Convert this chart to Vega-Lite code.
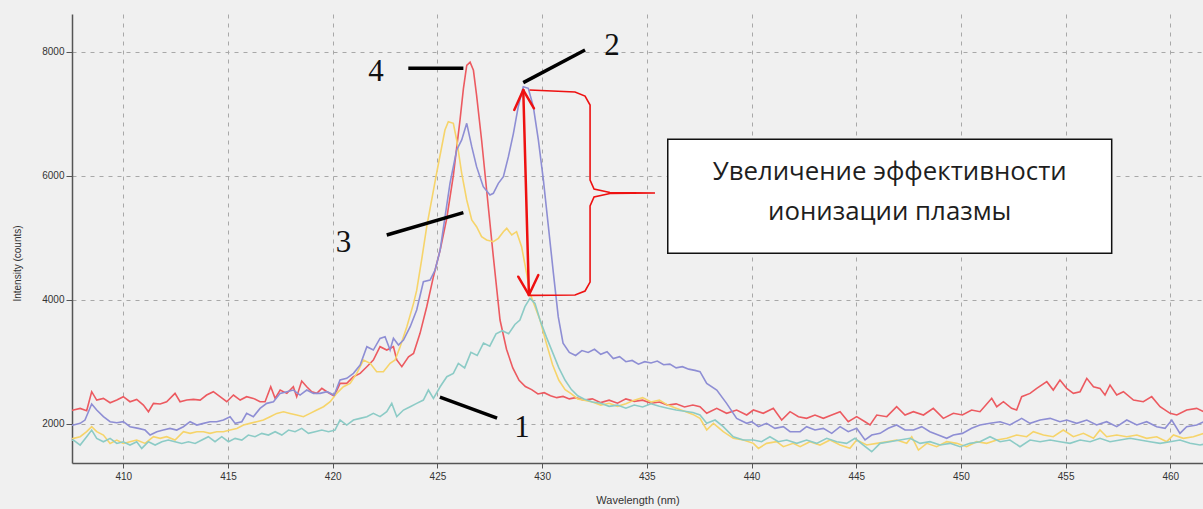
{
  "$schema": "https://vega.github.io/schema/vega-lite/v6.json",
  "width": 1131,
  "height": 449,
  "autosize": {"type": "none"},
  "padding": {"left": 72, "top": 14, "right": 0, "bottom": 46},
  "background": "#f0f0f0",
  "config": {"view": {"stroke": null}},
  "datasets": {
    "spec": [
      {"s":"4","x":407.5,"y":2210},{"s":"4","x":407.62,"y":2220},{"s":"4","x":407.94,"y":2247},{"s":"4","x":408.25,"y":2209},{"s":"4","x":408.49,"y":2516},{"s":"4","x":408.73,"y":2381},{"s":"4","x":409.05,"y":2408},{"s":"4","x":409.37,"y":2338},{"s":"4","x":409.69,"y":2381},{"s":"4","x":410.0,"y":2435},{"s":"4","x":410.32,"y":2354},{"s":"4","x":410.64,"y":2392},{"s":"4","x":410.96,"y":2301},{"s":"4","x":411.2,"y":2193},{"s":"4","x":411.44,"y":2328},{"s":"4","x":411.76,"y":2317},{"s":"4","x":412.07,"y":2354},{"s":"4","x":412.47,"y":2489},{"s":"4","x":412.71,"y":2354},{"s":"4","x":413.03,"y":2381},{"s":"4","x":413.35,"y":2392},{"s":"4","x":413.67,"y":2381},{"s":"4","x":413.98,"y":2462},{"s":"4","x":414.3,"y":2516},{"s":"4","x":414.62,"y":2435},{"s":"4","x":414.94,"y":2354},{"s":"4","x":415.26,"y":2462},{"s":"4","x":415.58,"y":2381},{"s":"4","x":415.89,"y":2435},{"s":"4","x":416.21,"y":2408},{"s":"4","x":416.53,"y":2354},{"s":"4","x":416.77,"y":2354},{"s":"4","x":417.04,"y":2596},{"s":"4","x":417.25,"y":2408},{"s":"4","x":417.49,"y":2543},{"s":"4","x":417.81,"y":2489},{"s":"4","x":418.12,"y":2596},{"s":"4","x":418.28,"y":2435},{"s":"4","x":418.52,"y":2688},{"s":"4","x":418.76,"y":2596},{"s":"4","x":419.0,"y":2516},{"s":"4","x":419.24,"y":2489},{"s":"4","x":419.48,"y":2570},{"s":"4","x":419.72,"y":2516},{"s":"4","x":420.07,"y":2446},{"s":"4","x":420.35,"y":2650},{"s":"4","x":420.67,"y":2650},{"s":"4","x":420.99,"y":2758},{"s":"4","x":421.31,"y":2812},{"s":"4","x":421.63,"y":2919},{"s":"4","x":421.94,"y":3027},{"s":"4","x":422.26,"y":3242},{"s":"4","x":422.58,"y":3188},{"s":"4","x":422.9,"y":3242},{"s":"4","x":423.06,"y":3027},{"s":"4","x":423.3,"y":2919},{"s":"4","x":423.62,"y":3080},{"s":"4","x":423.86,"y":3134},{"s":"4","x":424.17,"y":3457},{"s":"4","x":424.49,"y":3887},{"s":"4","x":424.81,"y":4371},{"s":"4","x":425.13,"y":4801},{"s":"4","x":425.44,"y":5300},{"s":"4","x":425.76,"y":6000},{"s":"4","x":426.08,"y":6900},{"s":"4","x":426.24,"y":7400},{"s":"4","x":426.4,"y":7780},{"s":"4","x":426.56,"y":7830},{"s":"4","x":426.72,"y":7700},{"s":"4","x":426.87,"y":7300},{"s":"4","x":427.11,"y":6576},{"s":"4","x":427.35,"y":5769},{"s":"4","x":427.67,"y":4694},{"s":"4","x":427.99,"y":3672},{"s":"4","x":428.3,"y":3200},{"s":"4","x":428.6,"y":2900},{"s":"4","x":428.9,"y":2700},{"s":"4","x":429.2,"y":2600},{"s":"4","x":429.5,"y":2550},{"s":"4","x":429.8,"y":2480},{"s":"4","x":430.1,"y":2500},{"s":"4","x":430.4,"y":2450},{"s":"4","x":430.7,"y":2420},{"s":"4","x":431.0,"y":2440},{"s":"4","x":431.3,"y":2400},{"s":"4","x":431.6,"y":2420},{"s":"4","x":432.0,"y":2380},{"s":"4","x":432.4,"y":2400},{"s":"4","x":432.8,"y":2340},{"s":"4","x":433.2,"y":2380},{"s":"4","x":433.6,"y":2330},{"s":"4","x":434.0,"y":2400},{"s":"4","x":434.4,"y":2360},{"s":"4","x":434.8,"y":2380},{"s":"4","x":435.2,"y":2330},{"s":"4","x":435.6,"y":2350},{"s":"4","x":436.0,"y":2300},{"s":"4","x":436.4,"y":2320},{"s":"4","x":436.8,"y":2270},{"s":"4","x":437.2,"y":2300},
      {"s":"4","x":437.54,"y":2274},{"s":"4","x":437.86,"y":2167},{"s":"4","x":438.34,"y":2247},{"s":"4","x":438.81,"y":2167},{"s":"4","x":439.29,"y":2221},{"s":"4","x":439.77,"y":2140},{"s":"4","x":440.09,"y":2221},{"s":"4","x":440.56,"y":2167},{"s":"4","x":441.04,"y":2247},{"s":"4","x":441.44,"y":2059},{"s":"4","x":441.84,"y":2194},{"s":"4","x":442.24,"y":2113},{"s":"4","x":442.63,"y":2086},{"s":"4","x":443.03,"y":2140},{"s":"4","x":443.43,"y":2086},{"s":"4","x":443.83,"y":2140},{"s":"4","x":444.23,"y":2194},{"s":"4","x":444.62,"y":2032},{"s":"4","x":445.02,"y":2113},{"s":"4","x":445.42,"y":2032},{"s":"4","x":445.66,"y":1979},{"s":"4","x":445.98,"y":2140},{"s":"4","x":446.46,"y":2113},{"s":"4","x":446.93,"y":2274},{"s":"4","x":447.33,"y":2140},{"s":"4","x":447.73,"y":2194},{"s":"4","x":448.21,"y":2140},{"s":"4","x":448.68,"y":2247},{"s":"4","x":449.16,"y":2086},{"s":"4","x":449.64,"y":2167},{"s":"4","x":450.07,"y":2140},{"s":"4","x":450.51,"y":2221},{"s":"4","x":450.91,"y":2194},{"s":"4","x":451.15,"y":2285},{"s":"4","x":451.47,"y":2409},{"s":"4","x":451.71,"y":2274},{"s":"4","x":452.03,"y":2355},{"s":"4","x":452.42,"y":2247},{"s":"4","x":452.66,"y":2221},{"s":"4","x":452.9,"y":2436},{"s":"4","x":453.3,"y":2489},{"s":"4","x":453.62,"y":2570},{"s":"4","x":454.1,"y":2678},{"s":"4","x":454.41,"y":2543},{"s":"4","x":454.73,"y":2705},{"s":"4","x":455.05,"y":2570},{"s":"4","x":455.37,"y":2489},{"s":"4","x":455.69,"y":2516},{"s":"4","x":456.01,"y":2731},{"s":"4","x":456.33,"y":2597},{"s":"4","x":456.64,"y":2570},{"s":"4","x":456.88,"y":2463},{"s":"4","x":457.12,"y":2624},{"s":"4","x":457.44,"y":2463},{"s":"4","x":457.76,"y":2516},{"s":"4","x":458.24,"y":2382},{"s":"4","x":458.71,"y":2355},{"s":"4","x":459.11,"y":2436},{"s":"4","x":459.51,"y":2274},{"s":"4","x":459.99,"y":2167},{"s":"4","x":460.31,"y":2140},{"s":"4","x":460.78,"y":2221},{"s":"4","x":461.26,"y":2247},{"s":"4","x":461.6,"y":2194},

      {"s":"3","x":407.5,"y":1760},{"s":"3","x":407.62,"y":1763},{"s":"3","x":407.94,"y":1790},{"s":"3","x":408.25,"y":1871},{"s":"3","x":408.49,"y":1951},{"s":"3","x":408.73,"y":1871},{"s":"3","x":409.05,"y":1817},{"s":"3","x":409.37,"y":1682},{"s":"3","x":409.69,"y":1736},{"s":"3","x":410.0,"y":1682},{"s":"3","x":410.32,"y":1709},{"s":"3","x":410.64,"y":1736},{"s":"3","x":411.04,"y":1682},{"s":"3","x":411.44,"y":1790},{"s":"3","x":411.76,"y":1763},{"s":"3","x":412.07,"y":1790},{"s":"3","x":412.47,"y":1736},{"s":"3","x":412.87,"y":1871},{"s":"3","x":413.19,"y":1844},{"s":"3","x":413.51,"y":1871},{"s":"3","x":413.83,"y":1871},{"s":"3","x":414.14,"y":1844},{"s":"3","x":414.46,"y":1871},{"s":"3","x":414.78,"y":1871},{"s":"3","x":415.1,"y":1897},{"s":"3","x":415.42,"y":1924},{"s":"3","x":415.74,"y":1978},{"s":"3","x":416.05,"y":2005},{"s":"3","x":416.37,"y":2032},{"s":"3","x":416.69,"y":2059},{"s":"3","x":417.01,"y":2113},{"s":"3","x":417.33,"y":2166},{"s":"3","x":417.65,"y":2193},{"s":"3","x":417.96,"y":2166},{"s":"3","x":418.28,"y":2140},{"s":"3","x":418.6,"y":2113},{"s":"3","x":418.92,"y":2166},{"s":"3","x":419.24,"y":2220},{"s":"3","x":419.56,"y":2274},{"s":"3","x":419.88,"y":2354},{"s":"3","x":420.19,"y":2489},{"s":"3","x":420.51,"y":2596},{"s":"3","x":420.83,"y":2650},{"s":"3","x":421.15,"y":2812},{"s":"3","x":421.47,"y":3027},{"s":"3","x":421.79,"y":2973},{"s":"3","x":422.1,"y":2838},{"s":"3","x":422.42,"y":2838},{"s":"3","x":422.74,"y":2973},{"s":"3","x":422.98,"y":3027},{"s":"3","x":423.22,"y":3242},{"s":"3","x":423.54,"y":3564},{"s":"3","x":423.86,"y":3941},{"s":"3","x":424.01,"y":4150},{"s":"3","x":424.25,"y":4650},{"s":"3","x":424.49,"y":5178},{"s":"3","x":424.96,"y":6038},{"s":"3","x":425.36,"y":6737},{"s":"3","x":425.52,"y":6872},{"s":"3","x":425.76,"y":6845},{"s":"3","x":425.92,"y":6576},{"s":"3","x":426.16,"y":6038},{"s":"3","x":426.4,"y":5608},{"s":"3","x":426.64,"y":5285},{"s":"3","x":426.87,"y":5178},{"s":"3","x":427.11,"y":5017},{"s":"3","x":427.35,"y":4963},{"s":"3","x":427.67,"y":4936},{"s":"3","x":427.91,"y":4990},{"s":"3","x":428.15,"y":5097},{"s":"3","x":428.31,"y":5151},{"s":"3","x":428.55,"y":5044},{"s":"3","x":428.78,"y":5097},{"s":"3","x":429.02,"y":4855},{"s":"3","x":429.26,"y":4425},{"s":"3","x":429.42,"y":4102},{"s":"3","x":429.66,"y":3887},{"s":"3","x":429.9,"y":3672},{"s":"3","x":430.2,"y":3300},{"s":"3","x":430.5,"y":2950},{"s":"3","x":430.8,"y":2700},{"s":"3","x":431.1,"y":2550},{"s":"3","x":431.4,"y":2480},{"s":"3","x":431.7,"y":2400},{"s":"3","x":432.0,"y":2380},{"s":"3","x":432.4,"y":2350},{"s":"3","x":432.8,"y":2300},{"s":"3","x":433.2,"y":2330},{"s":"3","x":433.6,"y":2280},{"s":"3","x":434.0,"y":2320},{"s":"3","x":434.4,"y":2380},{"s":"3","x":434.8,"y":2420},{"s":"3","x":435.2,"y":2350},{"s":"3","x":435.6,"y":2380},{"s":"3","x":436.0,"y":2300},{"s":"3","x":436.4,"y":2250},{"s":"3","x":436.8,"y":2200},{"s":"3","x":437.2,"y":2150},
      {"s":"3","x":437.54,"y":2086},{"s":"3","x":437.86,"y":1898},{"s":"3","x":438.18,"y":2006},{"s":"3","x":438.65,"y":1871},{"s":"3","x":439.13,"y":1764},{"s":"3","x":439.61,"y":1737},{"s":"3","x":440.09,"y":1683},{"s":"3","x":440.33,"y":1602},{"s":"3","x":440.72,"y":1683},{"s":"3","x":441.2,"y":1710},{"s":"3","x":441.52,"y":1629},{"s":"3","x":441.99,"y":1683},{"s":"3","x":442.32,"y":1629},{"s":"3","x":442.79,"y":1710},{"s":"3","x":443.27,"y":1656},{"s":"3","x":443.75,"y":1737},{"s":"3","x":444.23,"y":1656},{"s":"3","x":444.7,"y":1602},{"s":"3","x":445.02,"y":1737},{"s":"3","x":445.5,"y":1656},{"s":"3","x":445.98,"y":1683},{"s":"3","x":446.46,"y":1710},{"s":"3","x":446.93,"y":1737},{"s":"3","x":447.41,"y":1683},{"s":"3","x":447.65,"y":1790},{"s":"3","x":447.97,"y":1575},{"s":"3","x":448.37,"y":1683},{"s":"3","x":448.84,"y":1629},{"s":"3","x":449.32,"y":1710},{"s":"3","x":449.8,"y":1683},{"s":"3","x":450.27,"y":1629},{"s":"3","x":450.75,"y":1710},{"s":"3","x":451.23,"y":1683},{"s":"3","x":451.71,"y":1737},{"s":"3","x":452.19,"y":1764},{"s":"3","x":452.66,"y":1817},{"s":"3","x":453.14,"y":1790},{"s":"3","x":453.46,"y":1871},{"s":"3","x":453.94,"y":1817},{"s":"3","x":454.41,"y":1790},{"s":"3","x":454.89,"y":1898},{"s":"3","x":455.37,"y":1790},{"s":"3","x":455.85,"y":1844},{"s":"3","x":456.33,"y":1764},{"s":"3","x":456.64,"y":1898},{"s":"3","x":456.96,"y":1790},{"s":"3","x":457.44,"y":1817},{"s":"3","x":457.92,"y":1790},{"s":"3","x":458.4,"y":1817},{"s":"3","x":458.87,"y":1764},{"s":"3","x":459.35,"y":1790},{"s":"3","x":459.83,"y":1710},{"s":"3","x":460.15,"y":1817},{"s":"3","x":460.62,"y":1764},{"s":"3","x":461.1,"y":1790},{"s":"3","x":461.6,"y":1844},

      {"s":"1","x":407.5,"y":1730},{"s":"1","x":407.62,"y":1736},{"s":"1","x":407.94,"y":1655},{"s":"1","x":408.25,"y":1790},{"s":"1","x":408.49,"y":1897},{"s":"1","x":408.73,"y":1763},{"s":"1","x":409.05,"y":1709},{"s":"1","x":409.37,"y":1763},{"s":"1","x":409.69,"y":1682},{"s":"1","x":410.0,"y":1709},{"s":"1","x":410.32,"y":1655},{"s":"1","x":410.64,"y":1709},{"s":"1","x":410.88,"y":1601},{"s":"1","x":411.2,"y":1709},{"s":"1","x":411.52,"y":1655},{"s":"1","x":411.84,"y":1709},{"s":"1","x":412.15,"y":1736},{"s":"1","x":412.47,"y":1709},{"s":"1","x":412.79,"y":1682},{"s":"1","x":413.11,"y":1709},{"s":"1","x":413.43,"y":1682},{"s":"1","x":413.75,"y":1736},{"s":"1","x":414.06,"y":1790},{"s":"1","x":414.38,"y":1709},{"s":"1","x":414.7,"y":1790},{"s":"1","x":415.02,"y":1709},{"s":"1","x":415.34,"y":1763},{"s":"1","x":415.66,"y":1736},{"s":"1","x":415.97,"y":1817},{"s":"1","x":416.29,"y":1790},{"s":"1","x":416.61,"y":1844},{"s":"1","x":416.93,"y":1817},{"s":"1","x":417.25,"y":1871},{"s":"1","x":417.57,"y":1817},{"s":"1","x":417.89,"y":1897},{"s":"1","x":418.2,"y":1871},{"s":"1","x":418.52,"y":1924},{"s":"1","x":418.84,"y":1844},{"s":"1","x":419.16,"y":1871},{"s":"1","x":419.48,"y":1897},{"s":"1","x":419.8,"y":1871},{"s":"1","x":420.11,"y":1897},{"s":"1","x":420.35,"y":2059},{"s":"1","x":420.67,"y":1978},{"s":"1","x":420.99,"y":2059},{"s":"1","x":421.31,"y":2086},{"s":"1","x":421.63,"y":2113},{"s":"1","x":421.94,"y":2166},{"s":"1","x":422.26,"y":2113},{"s":"1","x":422.58,"y":2193},{"s":"1","x":422.82,"y":2328},{"s":"1","x":423.06,"y":2113},{"s":"1","x":423.38,"y":2220},{"s":"1","x":423.7,"y":2274},{"s":"1","x":424.01,"y":2328},{"s":"1","x":424.33,"y":2381},{"s":"1","x":424.57,"y":2543},{"s":"1","x":424.81,"y":2408},{"s":"1","x":425.13,"y":2596},{"s":"1","x":425.45,"y":2758},{"s":"1","x":425.76,"y":2812},{"s":"1","x":426.0,"y":2973},{"s":"1","x":426.3,"y":2900},{"s":"1","x":426.6,"y":3150},{"s":"1","x":426.9,"y":3100},{"s":"1","x":427.2,"y":3300},{"s":"1","x":427.5,"y":3250},{"s":"1","x":427.8,"y":3450},{"s":"1","x":428.1,"y":3500},{"s":"1","x":428.4,"y":3450},{"s":"1","x":428.7,"y":3600},{"s":"1","x":428.94,"y":3672},{"s":"1","x":429.18,"y":3887},{"s":"1","x":429.42,"y":4022},{"s":"1","x":429.66,"y":3941},{"s":"1","x":429.9,"y":3672},{"s":"1","x":430.2,"y":3400},{"s":"1","x":430.5,"y":3150},{"s":"1","x":430.8,"y":2900},{"s":"1","x":431.1,"y":2700},{"s":"1","x":431.4,"y":2550},{"s":"1","x":431.7,"y":2450},{"s":"1","x":432.0,"y":2400},{"s":"1","x":432.4,"y":2350},{"s":"1","x":432.8,"y":2330},{"s":"1","x":433.2,"y":2280},{"s":"1","x":433.6,"y":2300},{"s":"1","x":434.0,"y":2250},{"s":"1","x":434.4,"y":2300},{"s":"1","x":434.8,"y":2270},{"s":"1","x":435.2,"y":2320},{"s":"1","x":435.6,"y":2280},{"s":"1","x":436.0,"y":2250},{"s":"1","x":436.4,"y":2220},{"s":"1","x":436.8,"y":2200},{"s":"1","x":437.2,"y":2180},
      {"s":"1","x":437.54,"y":2140},{"s":"1","x":437.86,"y":2006},{"s":"1","x":438.26,"y":2059},{"s":"1","x":438.65,"y":1952},{"s":"1","x":439.13,"y":1790},{"s":"1","x":439.61,"y":1737},{"s":"1","x":440.09,"y":1737},{"s":"1","x":440.48,"y":1710},{"s":"1","x":440.88,"y":1790},{"s":"1","x":441.28,"y":1710},{"s":"1","x":441.68,"y":1737},{"s":"1","x":442.16,"y":1683},{"s":"1","x":442.63,"y":1737},{"s":"1","x":443.11,"y":1683},{"s":"1","x":443.59,"y":1764},{"s":"1","x":444.07,"y":1710},{"s":"1","x":444.54,"y":1683},{"s":"1","x":444.94,"y":1764},{"s":"1","x":445.34,"y":1656},{"s":"1","x":445.74,"y":1548},{"s":"1","x":446.14,"y":1683},{"s":"1","x":446.61,"y":1710},{"s":"1","x":447.09,"y":1737},{"s":"1","x":447.57,"y":1764},{"s":"1","x":448.05,"y":1683},{"s":"1","x":448.52,"y":1710},{"s":"1","x":449.0,"y":1656},{"s":"1","x":449.48,"y":1683},{"s":"1","x":449.96,"y":1629},{"s":"1","x":450.43,"y":1683},{"s":"1","x":450.91,"y":1710},{"s":"1","x":451.39,"y":1790},{"s":"1","x":451.87,"y":1710},{"s":"1","x":452.34,"y":1737},{"s":"1","x":452.82,"y":1629},{"s":"1","x":453.3,"y":1737},{"s":"1","x":453.78,"y":1710},{"s":"1","x":454.26,"y":1737},{"s":"1","x":454.73,"y":1710},{"s":"1","x":455.21,"y":1683},{"s":"1","x":455.69,"y":1737},{"s":"1","x":456.17,"y":1710},{"s":"1","x":456.64,"y":1764},{"s":"1","x":457.12,"y":1710},{"s":"1","x":457.6,"y":1737},{"s":"1","x":458.08,"y":1764},{"s":"1","x":458.55,"y":1737},{"s":"1","x":459.03,"y":1710},{"s":"1","x":459.51,"y":1683},{"s":"1","x":459.99,"y":1710},{"s":"1","x":460.46,"y":1737},{"s":"1","x":460.94,"y":1683},{"s":"1","x":461.42,"y":1656},{"s":"1","x":461.6,"y":1670},

      {"s":"2","x":407.5,"y":1975},{"s":"2","x":407.62,"y":1978},{"s":"2","x":407.94,"y":2005},{"s":"2","x":408.17,"y":2059},{"s":"2","x":408.49,"y":2317},{"s":"2","x":408.73,"y":2220},{"s":"2","x":409.05,"y":2113},{"s":"2","x":409.37,"y":2032},{"s":"2","x":409.69,"y":2016},{"s":"2","x":410.0,"y":2032},{"s":"2","x":410.32,"y":1951},{"s":"2","x":410.72,"y":1924},{"s":"2","x":411.04,"y":1897},{"s":"2","x":411.28,"y":1817},{"s":"2","x":411.6,"y":1871},{"s":"2","x":411.91,"y":1897},{"s":"2","x":412.23,"y":1924},{"s":"2","x":412.55,"y":1897},{"s":"2","x":412.87,"y":1951},{"s":"2","x":413.19,"y":2032},{"s":"2","x":413.51,"y":1978},{"s":"2","x":413.83,"y":2005},{"s":"2","x":414.14,"y":2032},{"s":"2","x":414.46,"y":2032},{"s":"2","x":414.78,"y":2059},{"s":"2","x":415.1,"y":2113},{"s":"2","x":415.34,"y":2005},{"s":"2","x":415.66,"y":2032},{"s":"2","x":415.89,"y":2166},{"s":"2","x":416.21,"y":2113},{"s":"2","x":416.53,"y":2247},{"s":"2","x":416.85,"y":2328},{"s":"2","x":417.17,"y":2354},{"s":"2","x":417.49,"y":2489},{"s":"2","x":417.81,"y":2516},{"s":"2","x":418.12,"y":2543},{"s":"2","x":418.44,"y":2462},{"s":"2","x":418.76,"y":2543},{"s":"2","x":419.08,"y":2489},{"s":"2","x":419.4,"y":2489},{"s":"2","x":419.72,"y":2516},{"s":"2","x":420.07,"y":2462},{"s":"2","x":420.35,"y":2704},{"s":"2","x":420.67,"y":2731},{"s":"2","x":420.99,"y":2812},{"s":"2","x":421.31,"y":2946},{"s":"2","x":421.63,"y":3242},{"s":"2","x":421.94,"y":3188},{"s":"2","x":422.26,"y":3376},{"s":"2","x":422.5,"y":3403},{"s":"2","x":422.74,"y":3188},{"s":"2","x":422.9,"y":3376},{"s":"2","x":423.14,"y":3269},{"s":"2","x":423.38,"y":3349},{"s":"2","x":423.7,"y":3564},{"s":"2","x":424.01,"y":3833},{"s":"2","x":424.33,"y":4290},{"s":"2","x":424.65,"y":4317},{"s":"2","x":424.89,"y":4478},{"s":"2","x":425.13,"y":4801},{"s":"2","x":425.6,"y":5877},{"s":"2","x":425.92,"y":6415},{"s":"2","x":426.16,"y":6576},{"s":"2","x":426.4,"y":6845},{"s":"2","x":426.64,"y":6468},{"s":"2","x":426.87,"y":6146},{"s":"2","x":427.19,"y":5823},{"s":"2","x":427.51,"y":5689},{"s":"2","x":427.67,"y":5716},{"s":"2","x":427.91,"y":5877},{"s":"2","x":428.15,"y":5984},{"s":"2","x":428.39,"y":6307},{"s":"2","x":428.63,"y":6683},{"s":"2","x":428.86,"y":7113},{"s":"2","x":429.1,"y":7436},{"s":"2","x":429.34,"y":7409},{"s":"2","x":429.58,"y":7113},{"s":"2","x":429.82,"y":6576},{"s":"2","x":430.06,"y":5931},{"s":"2","x":430.3,"y":5178},{"s":"2","x":430.54,"y":4425},{"s":"2","x":430.77,"y":3726},{"s":"2","x":431.0,"y":3300},{"s":"2","x":431.3,"y":3150},{"s":"2","x":431.6,"y":3100},{"s":"2","x":431.9,"y":3180},{"s":"2","x":432.2,"y":3150},{"s":"2","x":432.5,"y":3200},{"s":"2","x":432.8,"y":3120},{"s":"2","x":433.1,"y":3160},{"s":"2","x":433.4,"y":3050},{"s":"2","x":433.7,"y":3080},{"s":"2","x":434.0,"y":3000},{"s":"2","x":434.3,"y":3020},{"s":"2","x":434.6,"y":2960},{"s":"2","x":434.9,"y":3000},{"s":"2","x":435.2,"y":2980},{"s":"2","x":435.5,"y":3010},{"s":"2","x":435.8,"y":2950},{"s":"2","x":436.1,"y":2960},{"s":"2","x":436.4,"y":2900},{"s":"2","x":436.7,"y":2920},{"s":"2","x":437.0,"y":2880},{"s":"2","x":437.3,"y":2860},
      {"s":"2","x":437.54,"y":2839},{"s":"2","x":437.86,"y":2651},{"s":"2","x":438.34,"y":2543},{"s":"2","x":438.81,"y":2328},{"s":"2","x":439.29,"y":2086},{"s":"2","x":439.77,"y":2006},{"s":"2","x":440.01,"y":2032},{"s":"2","x":440.33,"y":1952},{"s":"2","x":440.72,"y":2006},{"s":"2","x":441.12,"y":1925},{"s":"2","x":441.52,"y":1952},{"s":"2","x":441.84,"y":1871},{"s":"2","x":442.32,"y":1871},{"s":"2","x":442.63,"y":1952},{"s":"2","x":443.03,"y":1898},{"s":"2","x":443.43,"y":1925},{"s":"2","x":443.83,"y":1844},{"s":"2","x":444.23,"y":1952},{"s":"2","x":444.62,"y":1871},{"s":"2","x":445.02,"y":1925},{"s":"2","x":445.42,"y":1737},{"s":"2","x":445.74,"y":1817},{"s":"2","x":446.14,"y":1844},{"s":"2","x":446.53,"y":1925},{"s":"2","x":446.93,"y":1979},{"s":"2","x":447.33,"y":1898},{"s":"2","x":447.73,"y":1898},{"s":"2","x":448.13,"y":1952},{"s":"2","x":448.52,"y":1871},{"s":"2","x":448.92,"y":1817},{"s":"2","x":449.32,"y":1764},{"s":"2","x":449.64,"y":1817},{"s":"2","x":450.07,"y":1844},{"s":"2","x":450.51,"y":1925},{"s":"2","x":450.91,"y":1979},{"s":"2","x":451.39,"y":2006},{"s":"2","x":451.87,"y":2032},{"s":"2","x":452.34,"y":1979},{"s":"2","x":452.9,"y":2086},{"s":"2","x":453.3,"y":2006},{"s":"2","x":453.78,"y":2059},{"s":"2","x":454.26,"y":2086},{"s":"2","x":454.73,"y":2032},{"s":"2","x":455.05,"y":2059},{"s":"2","x":455.53,"y":2006},{"s":"2","x":456.01,"y":2059},{"s":"2","x":456.48,"y":1979},{"s":"2","x":456.96,"y":2032},{"s":"2","x":457.44,"y":1952},{"s":"2","x":457.92,"y":2059},{"s":"2","x":458.4,"y":1979},{"s":"2","x":458.87,"y":2032},{"s":"2","x":459.35,"y":1952},{"s":"2","x":459.75,"y":1925},{"s":"2","x":460.07,"y":2059},{"s":"2","x":460.46,"y":1844},{"s":"2","x":460.78,"y":1952},{"s":"2","x":461.26,"y":1979},{"s":"2","x":461.6,"y":2032}
    ],
    "pointers": [
      {"x":423.61,"y":7732,"x2":426.24,"y2":7732},
      {"x":429.1,"y":7501,"x2":432.05,"y2":8028},
      {"x":422.58,"y":5043,"x2":426.24,"y2":5404},
      {"x":425.12,"y":2430,"x2":427.85,"y2":2091}
    ],
    "arrow": [
      {"x":429.1,"y":7382,"x2":429.37,"y2":4076},
      {"x":429.1,"y":7382,"x2":428.67,"y2":7060},
      {"x":429.1,"y":7382,"x2":429.61,"y2":7087},
      {"x":429.37,"y":4076,"x2":428.86,"y2":4371},
      {"x":429.37,"y":4076,"x2":429.82,"y2":4398}
    ],
    "brace": [
      {"i":1,"x":429.4,"y":7382},{"i":2,"x":431.57,"y":7350},{"i":3,"x":432.05,"y":7285},{"i":4,"x":432.29,"y":7140},{"i":5,"x":432.29,"y":5930},{"i":6,"x":432.48,"y":5785},{"i":7,"x":433.24,"y":5729},{"i":8,"x":435.39,"y":5721},{"i":9,"x":433.24,"y":5713},{"i":10,"x":432.48,"y":5656},{"i":11,"x":432.29,"y":5511},{"i":12,"x":432.29,"y":4285},{"i":13,"x":432.05,"y":4140},{"i":14,"x":431.57,"y":4076},{"i":15,"x":429.4,"y":4070}
    ],
    "box": [{"x":436.0,"x2":457.2,"y":6587,"y2":4748}],
    "boxText": [
      {"x":446.6,"y":5930,"t":"Увеличение эффективности"},
      {"x":446.6,"y":5285,"t":"ионизации плазмы"}
    ],
    "nums": [
      {"x":422.07,"y":7673,"t":"4"},
      {"x":433.34,"y":8092,"t":"2"},
      {"x":420.52,"y":4914,"t":"3"},
      {"x":429.04,"y":1930,"t":"1"}
    ]
  },
  "layer": [
    {
      "data": {"name": "spec"},
      "mark": {"type": "line", "strokeWidth": 1.6, "clip": true},
      "encoding": {
        "x": {"field": "x", "type": "quantitative",
          "scale": {"domain": [407.55, 461.56], "nice": false, "zero": false},
          "axis": {"title": "Wavelength (nm)", "values": [410,415,420,425,430,435,440,445,450,455,460], "format": "d",
            "grid": true, "gridDash": [4,5], "gridColor": "#a8a8a8", "gridWidth": 1,
            "domainColor": "#555555", "domainWidth": 1.5, "tickColor": "#555555", "tickSize": 5,
            "labelFont": "Liberation Sans", "labelFontSize": 10, "labelColor": "#333333", "labelPadding": 3,
            "titleFont": "Liberation Sans", "titleFontSize": 11, "titleFontWeight": "normal", "titleColor": "#333333",
            "titleBaseline": "top", "titleY": 31}},
        "y": {"field": "y", "type": "quantitative",
          "scale": {"domain": [1366, 8608], "nice": false, "zero": false},
          "axis": {"title": "Intensity (counts)", "values": [2000,4000,6000,8000], "format": "d",
            "grid": true, "gridDash": [4,5], "gridColor": "#a8a8a8", "gridWidth": 1,
            "domainColor": "#555555", "domainWidth": 1.5, "tickColor": "#555555", "tickSize": 6,
            "labelFont": "Liberation Sans", "labelFontSize": 10, "labelColor": "#333333", "labelPadding": 2,
            "titleFont": "Liberation Sans", "titleFontSize": 10, "titleFontWeight": "normal", "titleColor": "#333333",
            "titleAngle": 270, "titleX": -55, "titleY": 249, "titleAlign": "center", "titleBaseline": "middle"}},
        "color": {"field": "s", "type": "nominal", "legend": null,
          "scale": {"domain": ["4","3","1","2"], "range": ["#ec5a60","#f6d46a","#8ccbc6","#8e8ed4"]}}
      }
    },
    {
      "data": {"name": "pointers"},
      "mark": {"type": "rule", "color": "#000000", "strokeWidth": 3.5},
      "encoding": {
        "x": {"field": "x", "type": "quantitative"},
        "y": {"field": "y", "type": "quantitative"},
        "x2": {"field": "x2"},
        "y2": {"field": "y2"}
      }
    },
    {
      "data": {"name": "arrow"},
      "mark": {"type": "rule", "color": "#ee1111", "strokeWidth": 2.5, "strokeCap": "round"},
      "encoding": {
        "x": {"field": "x", "type": "quantitative"},
        "y": {"field": "y", "type": "quantitative"},
        "x2": {"field": "x2"},
        "y2": {"field": "y2"}
      }
    },
    {
      "data": {"name": "brace"},
      "mark": {"type": "line", "color": "#ee1111", "strokeWidth": 1.6},
      "encoding": {
        "x": {"field": "x", "type": "quantitative"},
        "y": {"field": "y", "type": "quantitative"},
        "order": {"field": "i", "type": "quantitative"}
      }
    },
    {
      "data": {"name": "box"},
      "mark": {"type": "rect", "fill": "#ffffff", "stroke": "#111111", "strokeWidth": 1.5},
      "encoding": {
        "x": {"field": "x", "type": "quantitative"},
        "x2": {"field": "x2"},
        "y": {"field": "y", "type": "quantitative"},
        "y2": {"field": "y2"}
      }
    },
    {
      "data": {"name": "boxText"},
      "mark": {"type": "text", "font": "Open Sans", "fontSize": 25.8, "color": "#1e1e1e", "align": "center", "baseline": "alphabetic"},
      "encoding": {
        "x": {"field": "x", "type": "quantitative"},
        "y": {"field": "y", "type": "quantitative"},
        "text": {"field": "t"}
      }
    },
    {
      "data": {"name": "nums"},
      "mark": {"type": "text", "font": "Liberation Serif", "fontSize": 31, "color": "#111111", "align": "center", "baseline": "middle"},
      "encoding": {
        "x": {"field": "x", "type": "quantitative"},
        "y": {"field": "y", "type": "quantitative"},
        "text": {"field": "t"}
      }
    }
  ]
}
